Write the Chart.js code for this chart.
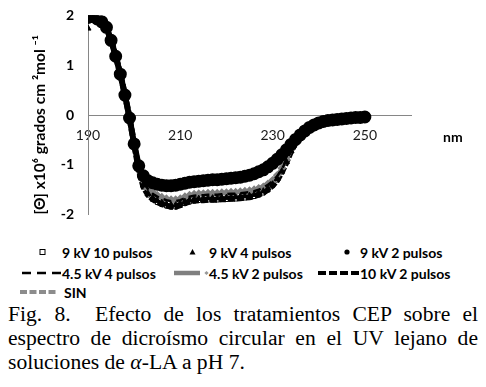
<!DOCTYPE html>
<html lang="es">
<head>
<meta charset="UTF-8">
<title>Fig. 8 - dicroísmo circular</title>
<script src="https://cdn.jsdelivr.net/npm/chart.js"></script>
<style>
  html, body { margin: 0; padding: 0; background: #fff; }
  body { width: 486px; height: 387px; position: relative; overflow: hidden; }
  #cd { position: absolute; left: 0; top: -7px; }
  .nm { position: absolute; left: 443px; top: 128px; font: bold 14px Lato, sans-serif; color: #000; }
  .item { position: absolute; display: flex; align-items: center; height: 16px;
          font: bold 14px Lato, sans-serif; color: #000; white-space: nowrap; }
  .item svg { flex: none; }
  .caption { position: absolute; left: 8px; top: 302px; width: 470px;
             font: 21.6px "Liberation Serif", "Times New Roman", serif; line-height: 24px;
             text-align: justify; color: #000; }
  .nw { white-space: nowrap; }
</style>
</head>
<body>
<canvas id="cd" width="486" height="244"></canvas>
<div class="nm">nm</div>
<div id="leyenda"></div>
<div class="caption">Fig. 8.&nbsp; Efecto de los tratamientos CEP sobre el espectro de dicroísmo circular en el UV lejano de soluciones de <span class="nw"><i>α</i>-LA</span> a pH 7.</div>

<script>
// longitud de onda (nm)
const wavelength = [190,191,192,193,194,195,196,197,198,199,200,201,202,203,204,205,206,207,208,209,
  210,211,212,213,214,215,216,217,218,219,220,221,222,223,224,225,226,227,228,229,
  230,231,232,233,234,235,236,237,238,239,240,241,242,243,244,245,246,247,248,249,250];

// [Θ] x10^6 para cada tratamiento
const kv9p10 = [1.94,1.97,1.88,1.86,1.76,1.53,1.21,0.85,0.43,-0.03,-0.60,-1.12,-1.45,-1.61,-1.70,-1.76,-1.80,-1.83,-1.85,-1.85,
  -1.82,-1.78,-1.75,-1.73,-1.72,-1.72,-1.71,-1.71,-1.71,-1.70,-1.70,-1.69,-1.69,-1.68,-1.67,-1.66,-1.64,-1.61,-1.57,-1.51,
  -1.42,-1.31,-1.15,-0.95,-0.74,-0.55,-0.42,-0.32,-0.26,-0.20,-0.16,-0.13,-0.11,-0.10,-0.09,-0.08,-0.07,-0.06,-0.05,-0.05,-0.04];
const kv9p4 = [1.74,1.90,1.96,1.88,1.78,1.54,1.22,0.86,0.44,-0.02,-0.56,-1.06,-1.41,-1.58,-1.66,-1.72,-1.76,-1.79,-1.81,-1.81,
  -1.78,-1.74,-1.71,-1.69,-1.68,-1.68,-1.67,-1.67,-1.67,-1.66,-1.66,-1.65,-1.65,-1.64,-1.63,-1.62,-1.60,-1.57,-1.53,-1.47,
  -1.39,-1.28,-1.13,-0.94,-0.72,-0.54,-0.41,-0.32,-0.25,-0.20,-0.16,-0.13,-0.11,-0.10,-0.09,-0.08,-0.07,-0.06,-0.05,-0.05,-0.04];
const kv9p2 = [1.96,1.98,1.93,1.87,1.76,1.50,1.18,0.82,0.40,-0.06,-0.58,-1.02,-1.22,-1.32,-1.36,-1.39,-1.41,-1.42,-1.42,-1.41,
  -1.39,-1.37,-1.35,-1.34,-1.33,-1.32,-1.31,-1.30,-1.30,-1.29,-1.28,-1.27,-1.26,-1.25,-1.23,-1.21,-1.18,-1.14,-1.10,-1.04,
  -0.97,-0.89,-0.80,-0.70,-0.59,-0.49,-0.40,-0.32,-0.25,-0.20,-0.16,-0.13,-0.11,-0.10,-0.09,-0.08,-0.07,-0.06,-0.05,-0.05,-0.04];
const kv45p4 = [1.93,1.95,1.89,1.85,1.74,1.50,1.19,0.83,0.41,-0.05,-0.58,-1.05,-1.34,-1.49,-1.58,-1.64,-1.68,-1.71,-1.73,-1.73,
  -1.71,-1.67,-1.64,-1.62,-1.61,-1.61,-1.60,-1.60,-1.60,-1.59,-1.59,-1.58,-1.58,-1.57,-1.56,-1.55,-1.53,-1.50,-1.46,-1.40,
  -1.33,-1.23,-1.09,-0.91,-0.71,-0.54,-0.41,-0.32,-0.25,-0.20,-0.16,-0.13,-0.11,-0.10,-0.09,-0.08,-0.07,-0.06,-0.05,-0.05,-0.04];
const kv45p2 = [1.92,1.94,1.89,1.84,1.73,1.49,1.18,0.82,0.40,-0.06,-0.58,-1.04,-1.32,-1.46,-1.55,-1.61,-1.65,-1.68,-1.70,-1.70,
  -1.68,-1.64,-1.61,-1.59,-1.58,-1.58,-1.57,-1.57,-1.57,-1.56,-1.56,-1.55,-1.55,-1.54,-1.53,-1.52,-1.50,-1.47,-1.44,-1.38,
  -1.31,-1.21,-1.07,-0.90,-0.70,-0.53,-0.41,-0.32,-0.25,-0.20,-0.16,-0.13,-0.11,-0.10,-0.09,-0.08,-0.07,-0.06,-0.05,-0.05,-0.04];
const kv10p2 = [1.90,1.94,1.91,1.84,1.74,1.51,1.19,0.83,0.41,-0.05,-0.59,-1.10,-1.44,-1.60,-1.69,-1.75,-1.79,-1.82,-1.84,-1.84,
  -1.81,-1.77,-1.74,-1.72,-1.71,-1.71,-1.70,-1.70,-1.70,-1.69,-1.69,-1.68,-1.68,-1.67,-1.66,-1.65,-1.63,-1.60,-1.56,-1.50,
  -1.42,-1.31,-1.15,-0.95,-0.73,-0.55,-0.41,-0.32,-0.25,-0.20,-0.16,-0.13,-0.11,-0.10,-0.09,-0.08,-0.07,-0.06,-0.05,-0.05,-0.04];
const sin = [1.95,1.93,1.90,1.86,1.75,1.52,1.21,0.85,0.43,-0.03,-0.57,-1.07,-1.38,-1.53,-1.62,-1.68,-1.72,-1.75,-1.77,-1.77,
  -1.74,-1.70,-1.67,-1.65,-1.64,-1.64,-1.63,-1.63,-1.63,-1.62,-1.62,-1.61,-1.61,-1.60,-1.59,-1.58,-1.56,-1.53,-1.49,-1.43,
  -1.35,-1.25,-1.10,-0.92,-0.71,-0.54,-0.41,-0.32,-0.25,-0.20,-0.16,-0.13,-0.11,-0.10,-0.09,-0.08,-0.07,-0.06,-0.05,-0.05,-0.04];

const seriesNames = ['9 kV 10 pulsos', '9 kV 4 pulsos', '9 kV 2 pulsos', '4.5 kV 4 pulsos', '4.5 kV 2 pulsos', '10 kV 2 pulsos', 'SIN'];
const xTicks = [190, 210, 230, 250];

function puntos(valores) {
    return wavelength.map(function (w, i) { return { x: w, y: valores[i] }; });
}

const fuente = 'Lato, sans-serif';

// order: el menor se dibuja encima
const datasets = [
    { label: seriesNames[0], data: puntos(kv9p10), showLine: false, pointStyle: 'rect', pointRadius: 2.6,
      pointBackgroundColor: '#fff', pointBorderColor: '#000', pointBorderWidth: 1, order: 8 },
    { label: seriesNames[1], data: puntos(kv9p4), showLine: false, pointStyle: 'triangle', pointRadius: 3.5,
      pointBackgroundColor: '#000', pointBorderColor: '#000', pointBorderWidth: 1, order: 3 },
    { label: seriesNames[2], data: puntos(kv9p2), borderColor: '#000', borderWidth: 6, pointStyle: 'circle', pointRadius: 3.5,
      pointBackgroundColor: '#000', pointBorderColor: '#000', order: 1 },
    { label: seriesNames[3], data: puntos(kv45p4), borderColor: '#000', borderWidth: 2.5, borderDash: [8, 5], pointRadius: 0, order: 4 },
    { label: seriesNames[4], data: puntos(kv45p2), borderColor: '#7f7f7f', borderWidth: 4, pointStyle: 'rectRot', pointRadius: 1.5,
      pointBackgroundColor: '#7f7f7f', pointBorderColor: '#7f7f7f', order: 5 },
    { label: seriesNames[5], data: puntos(kv10p2), borderColor: '#000', borderWidth: 6, borderDash: [7, 2], pointRadius: 0, order: 6 },
    { label: seriesNames[6], data: puntos(sin), borderColor: '#8c8c8c', borderWidth: 4, borderDash: [5, 3], pointRadius: 0, order: 7 }
];

new Chart(document.getElementById('cd'), {
    type: 'line',
    data: { datasets: datasets },
    options: {
        responsive: false,
        animation: false,
        layout: { padding: { top: 5, right: 75, bottom: 5, left: 0 } },
        plugins: { legend: { display: false }, tooltip: { enabled: false } },
        scales: {
            x: {
                type: 'linear',
                position: { y: 0 },
                min: 190,
                max: 260,
                grid: { display: false, drawTicks: false, tickLength: 0 },
                border: { display: true, color: '#868686', width: 1 },
                afterBuildTicks: function (s) { s.ticks = xTicks.map(function (v) { return { value: v }; }); },
                ticks: { font: { family: fuente, size: 14 }, color: '#1a1a1a', padding: 12, maxRotation: 0, autoSkip: false }
            },
            y: {
                min: -2,
                max: 2,
                grid: { display: false, drawTicks: false, tickLength: 0 },
                border: { display: true, color: '#868686', width: 1 },
                ticks: { stepSize: 1, font: { family: fuente, size: 14, weight: 'bold' }, color: '#000', padding: 14 },
                title: {
                    display: true,
                    text: '[Θ] x10⁶ grados cm ²mol ⁻¹',
                    align: 'start',
                    color: '#000',
                    font: { family: fuente, size: 15.5, weight: 'bold' },
                    padding: { top: 31, bottom: 0 }
                },
                afterFit: function (s) { s.width = 88; }
            }
        }
    }
});

// leyenda (tres columnas, como en la figura)
const simbolos = [
    '<rect x="20" y="5.5" width="5" height="5" fill="#fff" stroke="#000" stroke-width="1"/>',
    '<polygon points="25.5,5 28.5,10.5 22.5,10.5" fill="#000"/>',
    '<circle cx="29" cy="8" r="2.6" fill="#000"/>',
    '<line x1="2" y1="8" x2="42" y2="8" stroke="#000" stroke-width="2.5" stroke-dasharray="9,6"/>',
    '<line x1="7" y1="8" x2="33" y2="8" stroke="#7f7f7f" stroke-width="4.5"/><rect x="38" y="6.5" width="3" height="3" fill="#999" transform="rotate(45 39.5 8)"/>',
    '<line x1="0" y1="8" x2="42" y2="8" stroke="#000" stroke-width="4" stroke-dasharray="8,3"/>',
    '<line x1="0" y1="8" x2="37" y2="8" stroke="#8c8c8c" stroke-width="4" stroke-dasharray="7,2.5"/>'
];
const posLeyenda = [[20, 244], [167, 244], [318, 244], [20, 265], [167, 265], [318, 265], [20, 284]];
const leyenda = document.getElementById('leyenda');
seriesNames.forEach(function (nombre, i) {
    const d = document.createElement('div');
    d.className = 'item';
    d.style.left = posLeyenda[i][0] + 'px';
    d.style.top = posLeyenda[i][1] + 'px';
    const ancho = i === 6 ? 44 : 42;
    d.innerHTML = '<svg width="' + ancho + '" height="16">' + simbolos[i] + '</svg><span>' + nombre + '</span>';
    leyenda.appendChild(d);
});
</script>
</body>
</html>
